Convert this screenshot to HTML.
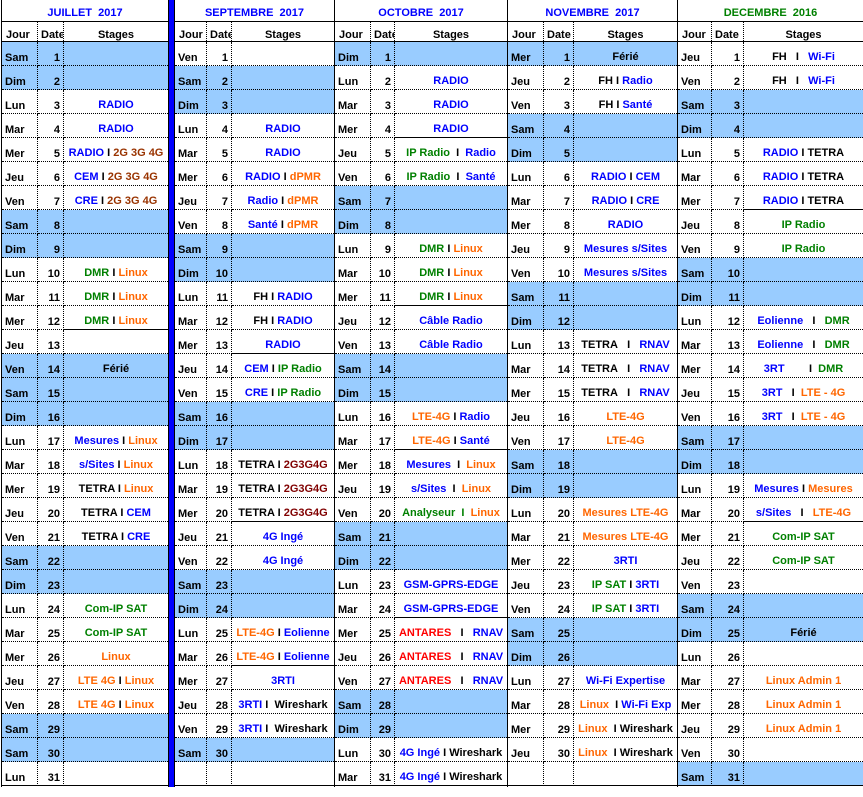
<!DOCTYPE html>
<html><head><meta charset="utf-8"><style>
*{margin:0;padding:0;box-sizing:border-box}
body{width:863px;height:797px;background:#fff;position:relative;overflow:hidden;font:bold 11px "Liberation Sans",sans-serif;color:#000}
.m{position:absolute;top:0;height:787px;border-right:1px solid #000}
.t{height:21px;text-align:center;line-height:27px;color:#0000ff;white-space:nowrap}
.h{height:21px;border-top:1px solid #000;border-bottom:1px solid #000;display:flex}
.h span{padding-top:7px;line-height:12px;white-space:nowrap;overflow:hidden}
.r{height:24px;display:flex}
.r i,.r u,.r s{font-style:normal;text-decoration:none;height:24px;border-bottom:1px dotted #000;white-space:nowrap;overflow:hidden}
.r i{padding:9px 0 0 3px;line-height:14px;border-right:1px dotted #000}
.r u{padding:9px 3px 0 0;line-height:14px;text-align:right;border-right:1px dotted #000}
.r s{flex:1;text-align:center;padding-top:7px;line-height:16px}
.r s.sb{border-bottom:1px solid #000}
.r:last-child i,.r:last-child u,.r:last-child s{border-bottom:1px solid #000}
.w i,.w u,.w s{background:#99ccff}
.h .a{border-right:1px dotted #000;padding-left:4px}
.h .c{border-right:1px dotted #000;padding-left:3px}
.h .e{flex:1;text-align:center}
.b{color:#0000ff}.g{color:#008000}.o{color:#ff6600}.br{color:#993300}.dr{color:#800000}.rd{color:#ff0000}
#J{left:1px;width:167px;border-left:1px solid #000;border-right:none}
#J .r i,#J .h .a{width:36px}#J .r u,#J .h .c{width:26px}
#S{left:175px;width:160px}
#S .r i,#S .h .a{width:32px}#S .r u,#S .h .c{width:25px}
#O{left:335px;width:173px}
#O .r i,#O .h .a{width:36px}#O .r u,#O .h .c{width:24px}
#N{left:508px;width:170px}
#N .r i,#N .h .a{width:36px}#N .r u,#N .h .c{width:30px}
#D{left:678px;width:185px;border-right:none}
#D .r i,#D .h .a{width:34px}#D .r u,#D .h .c{width:32px}
#bar{position:absolute;left:168px;top:0;width:7px;height:787px;background:#0000ff;border-left:1px solid #000;border-right:1px solid #000}
#bar2{position:absolute;left:169px;top:0;width:5px;height:21px;background:#0000ff}
</style></head><body>

<div class="m" id="J">
<div class="t">JUILLET&nbsp; 2017</div>
<div class="h"><span class="a">Jour</span><span class="c">Date</span><span class="e">Stages</span></div>
<div class="r w"><i>Sam</i><u>1</u><s></s></div>
<div class="r w"><i>Dim</i><u>2</u><s></s></div>
<div class="r"><i>Lun</i><u>3</u><s class="b">RADIO</s></div>
<div class="r"><i>Mar</i><u>4</u><s class="b">RADIO</s></div>
<div class="r"><i>Mer</i><u>5</u><s><span class="b">RADIO</span> I <span class="br">2G 3G 4G</span></s></div>
<div class="r"><i>Jeu</i><u>6</u><s><span class="b">CEM</span> I <span class="br">2G 3G 4G</span></s></div>
<div class="r"><i>Ven</i><u>7</u><s><span class="b">CRE</span> I <span class="br">2G 3G 4G</span></s></div>
<div class="r w"><i>Sam</i><u>8</u><s></s></div>
<div class="r w"><i>Dim</i><u>9</u><s></s></div>
<div class="r"><i>Lun</i><u>10</u><s><span class="g">DMR</span> I <span class="o">Linux</span></s></div>
<div class="r"><i>Mar</i><u>11</u><s><span class="g">DMR</span> I <span class="o">Linux</span></s></div>
<div class="r"><i>Mer</i><u>12</u><s class="sb"><span class="g">DMR</span> I <span class="o">Linux</span></s></div>
<div class="r"><i>Jeu</i><u>13</u><s></s></div>
<div class="r w"><i>Ven</i><u>14</u><s>Férié</s></div>
<div class="r w"><i>Sam</i><u>15</u><s></s></div>
<div class="r w"><i>Dim</i><u>16</u><s></s></div>
<div class="r"><i>Lun</i><u>17</u><s><span class="b">Mesures</span> I <span class="o">Linux</span></s></div>
<div class="r"><i>Mar</i><u>18</u><s><span class="b">s/Sites</span> I <span class="o">Linux</span></s></div>
<div class="r"><i>Mer</i><u>19</u><s>TETRA I <span class="o">Linux</span></s></div>
<div class="r"><i>Jeu</i><u>20</u><s>TETRA I <span class="b">CEM</span></s></div>
<div class="r"><i>Ven</i><u>21</u><s>TETRA I <span class="b">CRE</span></s></div>
<div class="r w"><i>Sam</i><u>22</u><s></s></div>
<div class="r w"><i>Dim</i><u>23</u><s></s></div>
<div class="r"><i>Lun</i><u>24</u><s class="g">Com-IP SAT</s></div>
<div class="r"><i>Mar</i><u>25</u><s class="g">Com-IP SAT</s></div>
<div class="r"><i>Mer</i><u>26</u><s class="o">Linux</s></div>
<div class="r"><i>Jeu</i><u>27</u><s><span class="o">LTE 4G</span> I <span class="o">Linux</span></s></div>
<div class="r"><i>Ven</i><u>28</u><s><span class="o">LTE 4G</span> I <span class="o">Linux</span></s></div>
<div class="r w"><i>Sam</i><u>29</u><s></s></div>
<div class="r w"><i>Sam</i><u>30</u><s></s></div>
<div class="r"><i>Lun</i><u>31</u><s></s></div>
</div>

<div id="bar"></div><div id="bar2"></div>

<div class="m" id="S">
<div class="t">SEPTEMBRE&nbsp; 2017</div>
<div class="h"><span class="a">Jour</span><span class="c">Date</span><span class="e">Stages</span></div>
<div class="r"><i>Ven</i><u>1</u><s></s></div>
<div class="r w"><i>Sam</i><u>2</u><s></s></div>
<div class="r w"><i>Dim</i><u>3</u><s></s></div>
<div class="r"><i>Lun</i><u>4</u><s class="b">RADIO</s></div>
<div class="r"><i>Mar</i><u>5</u><s class="b">RADIO</s></div>
<div class="r"><i>Mer</i><u>6</u><s><span class="b">RADIO</span> I <span class="o">dPMR</span></s></div>
<div class="r"><i>Jeu</i><u>7</u><s><span class="b">Radio</span> I <span class="o">dPMR</span></s></div>
<div class="r"><i>Ven</i><u>8</u><s><span class="b">Santé</span> I <span class="o">dPMR</span></s></div>
<div class="r w"><i>Sam</i><u>9</u><s></s></div>
<div class="r w"><i>Dim</i><u>10</u><s></s></div>
<div class="r"><i>Lun</i><u>11</u><s>FH I <span class="b">RADIO</span></s></div>
<div class="r"><i>Mar</i><u>12</u><s>FH I <span class="b">RADIO</span></s></div>
<div class="r"><i>Mer</i><u>13</u><s class="b sb">RADIO</s></div>
<div class="r"><i>Jeu</i><u>14</u><s><span class="b">CEM</span> I <span class="g">IP Radio</span></s></div>
<div class="r"><i>Ven</i><u>15</u><s><span class="b">CRE</span> I <span class="g">IP Radio</span></s></div>
<div class="r w"><i>Sam</i><u>16</u><s></s></div>
<div class="r w"><i>Dim</i><u>17</u><s></s></div>
<div class="r"><i>Lun</i><u>18</u><s>TETRA I <span class="dr">2G3G4G</span></s></div>
<div class="r"><i>Mar</i><u>19</u><s>TETRA I <span class="dr">2G3G4G</span></s></div>
<div class="r"><i>Mer</i><u>20</u><s class="sb">TETRA I <span class="dr">2G3G4G</span></s></div>
<div class="r"><i>Jeu</i><u>21</u><s class="b">4G Ingé</s></div>
<div class="r"><i>Ven</i><u>22</u><s class="b">4G Ingé</s></div>
<div class="r w"><i>Sam</i><u>23</u><s></s></div>
<div class="r w"><i>Dim</i><u>24</u><s></s></div>
<div class="r"><i>Lun</i><u>25</u><s><span class="o">LTE-4G</span> I <span class="b">Eolienne</span></s></div>
<div class="r"><i>Mar</i><u>26</u><s class="sb"><span class="o">LTE-4G</span> I <span class="b">Eolienne</span></s></div>
<div class="r"><i>Mer</i><u>27</u><s class="b">3RTI</s></div>
<div class="r"><i>Jeu</i><u>28</u><s><span class="b">3RTI</span> I&nbsp; Wireshark</s></div>
<div class="r"><i>Ven</i><u>29</u><s><span class="b">3RTI</span> I&nbsp; Wireshark</s></div>
<div class="r w"><i>Sam</i><u>30</u><s></s></div>
<div class="r"><i></i><u></u><s></s></div>
</div>

<div class="m" id="O">
<div class="t">OCTOBRE&nbsp; 2017</div>
<div class="h"><span class="a">Jour</span><span class="c">Date</span><span class="e">Stages</span></div>
<div class="r w"><i>Dim</i><u>1</u><s></s></div>
<div class="r"><i>Lun</i><u>2</u><s class="b">RADIO</s></div>
<div class="r"><i>Mar</i><u>3</u><s class="b">RADIO</s></div>
<div class="r"><i>Mer</i><u>4</u><s class="b sb">RADIO</s></div>
<div class="r"><i>Jeu</i><u>5</u><s><span class="g">IP Radio</span>&nbsp; I&nbsp; <span class="b">Radio</span></s></div>
<div class="r"><i>Ven</i><u>6</u><s><span class="g">IP Radio</span>&nbsp; I&nbsp; <span class="b">Santé</span></s></div>
<div class="r w"><i>Sam</i><u>7</u><s></s></div>
<div class="r w"><i>Dim</i><u>8</u><s></s></div>
<div class="r"><i>Lun</i><u>9</u><s><span class="g">DMR</span> I <span class="o">Linux</span></s></div>
<div class="r"><i>Mar</i><u>10</u><s><span class="g">DMR</span> I <span class="o">Linux</span></s></div>
<div class="r"><i>Mer</i><u>11</u><s class="sb"><span class="g">DMR</span> I <span class="o">Linux</span></s></div>
<div class="r"><i>Jeu</i><u>12</u><s class="b">Câble Radio</s></div>
<div class="r"><i>Ven</i><u>13</u><s class="b">Câble Radio</s></div>
<div class="r w"><i>Sam</i><u>14</u><s></s></div>
<div class="r w"><i>Dim</i><u>15</u><s></s></div>
<div class="r"><i>Lun</i><u>16</u><s><span class="o">LTE-4G</span> I <span class="b">Radio</span></s></div>
<div class="r"><i>Mar</i><u>17</u><s class="sb"><span class="o">LTE-4G</span> I <span class="b">Santé</span></s></div>
<div class="r"><i>Mer</i><u>18</u><s><span class="b">Mesures</span>&nbsp; I&nbsp; <span class="o">Linux</span></s></div>
<div class="r"><i>Jeu</i><u>19</u><s><span class="b">s/Sites</span>&nbsp; I&nbsp; <span class="o">Linux</span></s></div>
<div class="r"><i>Ven</i><u>20</u><s><span class="g">Analyseur&nbsp; I</span>&nbsp; <span class="o">Linux</span></s></div>
<div class="r w"><i>Sam</i><u>21</u><s></s></div>
<div class="r w"><i>Dim</i><u>22</u><s></s></div>
<div class="r"><i>Lun</i><u>23</u><s class="b">GSM-GPRS-EDGE</s></div>
<div class="r"><i>Mar</i><u>24</u><s class="b sb">GSM-GPRS-EDGE</s></div>
<div class="r"><i>Mer</i><u>25</u><s><span class="rd">ANTARES</span>&nbsp;&nbsp; I&nbsp;&nbsp; <span class="b">RNAV</span></s></div>
<div class="r"><i>Jeu</i><u>26</u><s><span class="rd">ANTARES</span>&nbsp;&nbsp; I&nbsp;&nbsp; <span class="b">RNAV</span></s></div>
<div class="r"><i>Ven</i><u>27</u><s><span class="rd">ANTARES</span>&nbsp;&nbsp; I&nbsp;&nbsp; <span class="b">RNAV</span></s></div>
<div class="r w"><i>Sam</i><u>28</u><s></s></div>
<div class="r w"><i>Dim</i><u>29</u><s></s></div>
<div class="r"><i>Lun</i><u>30</u><s><span class="b">4G Ingé</span> I Wireshark</s></div>
<div class="r"><i>Mar</i><u>31</u><s><span class="b">4G Ingé</span> I Wireshark</s></div>
</div>

<div class="m" id="N">
<div class="t">NOVEMBRE&nbsp; 2017</div>
<div class="h"><span class="a">Jour</span><span class="c">Date</span><span class="e">Stages</span></div>
<div class="r w"><i>Mer</i><u>1</u><s>Férié</s></div>
<div class="r"><i>Jeu</i><u>2</u><s>FH I <span class="b">Radio</span></s></div>
<div class="r"><i>Ven</i><u>3</u><s>FH I <span class="b">Santé</span></s></div>
<div class="r w"><i>Sam</i><u>4</u><s></s></div>
<div class="r w"><i>Dim</i><u>5</u><s></s></div>
<div class="r"><i>Lun</i><u>6</u><s class="b">RADIO <span style="color:#000">I</span> CEM</s></div>
<div class="r"><i>Mar</i><u>7</u><s class="b">RADIO <span style="color:#000">I</span> CRE</s></div>
<div class="r"><i>Mer</i><u>8</u><s class="b">RADIO</s></div>
<div class="r"><i>Jeu</i><u>9</u><s class="b">Mesures s/Sites</s></div>
<div class="r"><i>Ven</i><u>10</u><s class="b">Mesures s/Sites</s></div>
<div class="r w"><i>Sam</i><u>11</u><s></s></div>
<div class="r w"><i>Dim</i><u>12</u><s></s></div>
<div class="r"><i>Lun</i><u>13</u><s>TETRA&nbsp;&nbsp; I&nbsp;&nbsp; <span class="b">RNAV</span></s></div>
<div class="r"><i>Mar</i><u>14</u><s>TETRA&nbsp;&nbsp; I&nbsp;&nbsp; <span class="b">RNAV</span></s></div>
<div class="r"><i>Mer</i><u>15</u><s>TETRA&nbsp;&nbsp; I&nbsp;&nbsp; <span class="b">RNAV</span></s></div>
<div class="r"><i>Jeu</i><u>16</u><s class="o">LTE-4G</s></div>
<div class="r"><i>Ven</i><u>17</u><s class="o">LTE-4G</s></div>
<div class="r w"><i>Sam</i><u>18</u><s></s></div>
<div class="r w"><i>Dim</i><u>19</u><s></s></div>
<div class="r"><i>Lun</i><u>20</u><s class="o">Mesures LTE-4G</s></div>
<div class="r"><i>Mar</i><u>21</u><s class="o">Mesures LTE-4G</s></div>
<div class="r"><i>Mer</i><u>22</u><s class="b">3RTI</s></div>
<div class="r"><i>Jeu</i><u>23</u><s><span class="g">IP SAT</span> I <span class="b">3RTI</span></s></div>
<div class="r"><i>Ven</i><u>24</u><s><span class="g">IP SAT</span> I <span class="b">3RTI</span></s></div>
<div class="r w"><i>Sam</i><u>25</u><s></s></div>
<div class="r w"><i>Dim</i><u>26</u><s></s></div>
<div class="r"><i>Lun</i><u>27</u><s class="b">Wi-Fi Expertise</s></div>
<div class="r"><i>Mar</i><u>28</u><s><span class="o">Linux</span>&nbsp; I <span class="b">Wi-Fi Exp</span></s></div>
<div class="r"><i>Mer</i><u>29</u><s><span class="o">Linux</span>&nbsp; I Wireshark</s></div>
<div class="r"><i>Jeu</i><u>30</u><s><span class="o">Linux</span>&nbsp; I Wireshark</s></div>
<div class="r"><i></i><u></u><s></s></div>
</div>

<div class="m" id="D">
<div class="t" style="color:#008000">DECEMBRE&nbsp; 2016</div>
<div class="h"><span class="a">Jour</span><span class="c">Date</span><span class="e">Stages</span></div>
<div class="r"><i>Jeu</i><u>1</u><s>FH&nbsp;&nbsp; I&nbsp;&nbsp; <span class="b">Wi-Fi</span></s></div>
<div class="r"><i>Ven</i><u>2</u><s>FH&nbsp;&nbsp; I&nbsp;&nbsp; <span class="b">Wi-Fi</span></s></div>
<div class="r w"><i>Sam</i><u>3</u><s></s></div>
<div class="r w"><i>Dim</i><u>4</u><s></s></div>
<div class="r"><i>Lun</i><u>5</u><s><span class="b">RADIO</span> I TETRA</s></div>
<div class="r"><i>Mar</i><u>6</u><s><span class="b">RADIO</span> I TETRA</s></div>
<div class="r"><i>Mer</i><u>7</u><s class="sb"><span class="b">RADIO</span> I TETRA</s></div>
<div class="r"><i>Jeu</i><u>8</u><s class="g">IP Radio</s></div>
<div class="r"><i>Ven</i><u>9</u><s class="g">IP Radio</s></div>
<div class="r w"><i>Sam</i><u>10</u><s></s></div>
<div class="r w"><i>Dim</i><u>11</u><s></s></div>
<div class="r"><i>Lun</i><u>12</u><s><span class="b">Eolienne</span>&nbsp;&nbsp; I&nbsp;&nbsp; <span class="g">DMR</span></s></div>
<div class="r"><i>Mar</i><u>13</u><s><span class="b">Eolienne</span>&nbsp;&nbsp; I&nbsp;&nbsp; <span class="g">DMR</span></s></div>
<div class="r"><i>Mer</i><u>14</u><s><span class="b">3RT</span>&nbsp;&nbsp;&nbsp;&nbsp;&nbsp;&nbsp;&nbsp; I&nbsp; <span class="g">DMR</span></s></div>
<div class="r"><i>Jeu</i><u>15</u><s><span class="b">3RT</span>&nbsp;&nbsp; I&nbsp; <span class="o">LTE - 4G</span></s></div>
<div class="r"><i>Ven</i><u>16</u><s><span class="b">3RT</span>&nbsp;&nbsp; I&nbsp; <span class="o">LTE - 4G</span></s></div>
<div class="r w"><i>Sam</i><u>17</u><s></s></div>
<div class="r w"><i>Dim</i><u>18</u><s></s></div>
<div class="r"><i>Lun</i><u>19</u><s><span class="b">Mesures</span> I <span class="o">Mesures</span></s></div>
<div class="r"><i>Mar</i><u>20</u><s class="sb"><span class="b">s/Sites</span>&nbsp;&nbsp; I&nbsp;&nbsp; <span class="o">LTE-4G</span></s></div>
<div class="r"><i>Mer</i><u>21</u><s class="g">Com-IP SAT</s></div>
<div class="r"><i>Jeu</i><u>22</u><s class="g">Com-IP SAT</s></div>
<div class="r"><i>Ven</i><u>23</u><s></s></div>
<div class="r w"><i>Sam</i><u>24</u><s></s></div>
<div class="r w"><i>Dim</i><u>25</u><s>Férié</s></div>
<div class="r"><i>Lun</i><u>26</u><s></s></div>
<div class="r"><i>Mar</i><u>27</u><s class="o">Linux Admin 1</s></div>
<div class="r"><i>Mer</i><u>28</u><s class="o">Linux Admin 1</s></div>
<div class="r"><i>Jeu</i><u>29</u><s class="o">Linux Admin 1</s></div>
<div class="r"><i>Ven</i><u>30</u><s></s></div>
<div class="r w"><i>Sam</i><u>31</u><s></s></div>
</div>

</body></html>
